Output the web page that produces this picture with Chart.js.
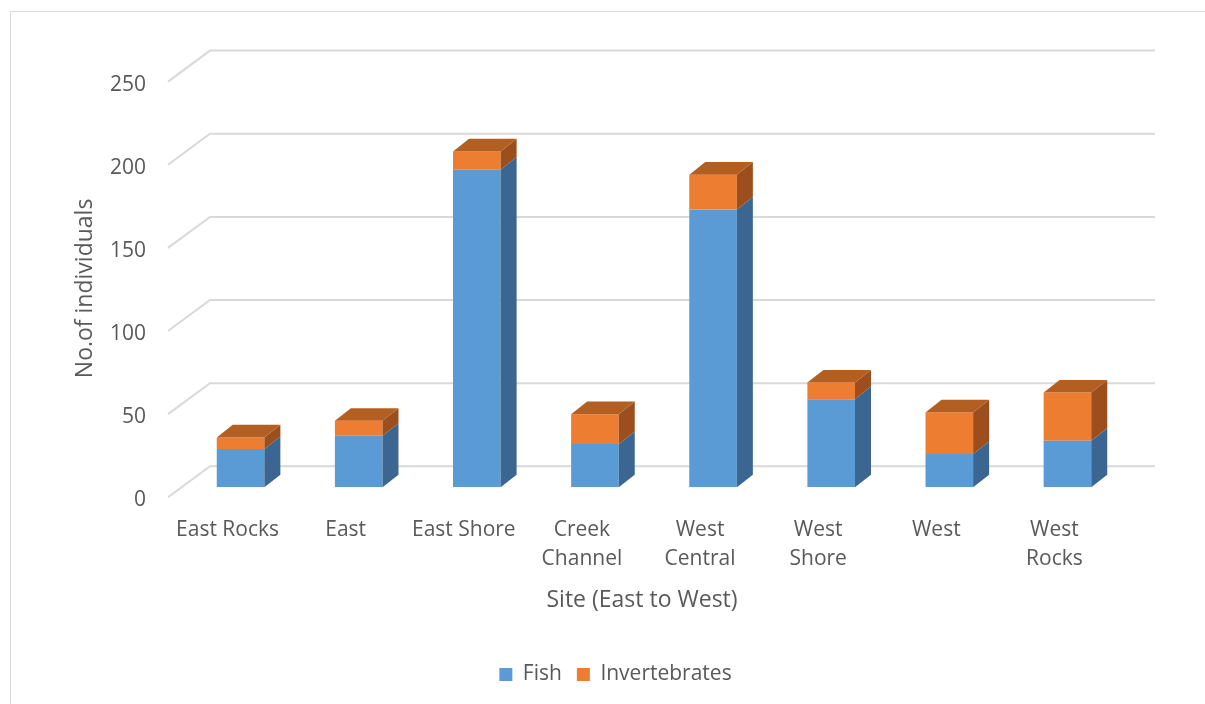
<!DOCTYPE html>
<html>
<head>
<meta charset="utf-8">
<script src="https://cdn.jsdelivr.net/npm/chart.js@4.4.1/dist/chart.umd.min.js"></script>
<style>
    html, body { margin: 0; padding: 0; background: #fff; }
    #wrap { width: 1205px; height: 704px; }
</style>
</head>
<body>
<div id="wrap"><canvas id="chart-area" width="1205" height="704"></canvas></div>
<script>
    'use strict';

    var sites = ['East Rocks', 'East', 'East Shore', ['Creek', 'Channel'], ['West', 'Central'],
        ['West', 'Shore'], 'West', ['West', 'Rocks']];
    var fish = [23, 31, 191, 26, 167, 53, 20, 28];
    var invertebrates = [7, 9, 11, 18, 21, 10, 25, 29];
    var yMax = 250;
    var yStep = 50;

    var textColor = '#595959';
    var fontFamily = "'Open Sans', sans-serif";

    // fake 3D: offsets in px
    var DEPTH = { x: 16, y: -12.6 };  // bar front -> bar back
    var WALL = { x: 28.5, y: -21 };   // bar front -> back wall
    var FLOOR = { x: -42, y: 31 };    // back wall -> front edge of floor

    function poly(ctx, pts) {
        ctx.beginPath();
        ctx.moveTo(pts[0][0], pts[0][1]);
        for (var i = 1; i < pts.length; i++) ctx.lineTo(pts[i][0], pts[i][1]);
        ctx.closePath();
        ctx.fill();
    }

    var bar3d = {
        id: 'bar3d',
        beforeDraw: function (chart) {
            var ctx = chart.ctx;
            ctx.save();
            ctx.fillStyle = '#fff';
            ctx.fillRect(0, 0, chart.width, chart.height);
            // outer frame (only top and left are inside the picture)
            ctx.strokeStyle = '#d9d9d9';
            ctx.lineWidth = 1;
            ctx.beginPath();
            ctx.moveTo(10.5, chart.height);
            ctx.lineTo(10.5, 11.5);
            ctx.lineTo(chart.width, 11.5);
            ctx.stroke();
            ctx.restore();
        },
        beforeDatasetsDraw: function (chart) {
            var ctx = chart.ctx, area = chart.chartArea, y = chart.scales.y;
            ctx.save();
            ctx.strokeStyle = '#d9d9d9';
            ctx.lineWidth = 2;
            y.ticks.forEach(function (t) {
                var py = y.getPixelForValue(t.value) + WALL.y;
                var x0 = area.left + WALL.x, x1 = area.right + WALL.x;
                ctx.beginPath();
                ctx.moveTo(x0 + FLOOR.x, py + FLOOR.y);
                ctx.lineTo(x0, py);
                ctx.lineTo(x1, py);
                ctx.stroke();
            });
            ctx.restore();
        },
        afterDatasetsDraw: function (chart) {
            var ctx = chart.ctx;
            var last = chart.data.datasets.length - 1;
            ctx.save();
            chart.data.datasets.forEach(function (ds, di) {
                chart.getDatasetMeta(di).data.forEach(function (bar) {
                    var p = bar.getProps(['x', 'y', 'base', 'width'], true);
                    var l = p.x - p.width / 2, r = p.x + p.width / 2;
                    var top = Math.min(p.y, p.base), bot = Math.max(p.y, p.base);
                    ctx.fillStyle = ds.sideColor;
                    poly(ctx, [[r, top], [r + DEPTH.x, top + DEPTH.y], [r + DEPTH.x, bot + DEPTH.y], [r, bot]]);
                    if (di === last) {
                        ctx.fillStyle = ds.topColor;
                        poly(ctx, [[l, top], [l + DEPTH.x, top + DEPTH.y], [r + DEPTH.x, top + DEPTH.y], [r, top]]);
                    }
                });
            });
            ctx.restore();
        }
    };

    var ctx = document.getElementById('chart-area').getContext('2d');
    window.siteChart = new Chart(ctx, {
        type: 'bar',
        data: {
            labels: sites,
            datasets: [
                {
                    label: 'Fish',
                    data: fish,
                    backgroundColor: '#5b9bd5',
                    sideColor: '#3b6691',
                    topColor: '#4a80b3',
                    barPercentage: 0.403,
                    categoryPercentage: 1
                },
                {
                    label: 'Invertebrates',
                    data: invertebrates,
                    backgroundColor: '#ed7d31',
                    sideColor: '#9c4f1d',
                    topColor: '#b45f22',
                    barPercentage: 0.403,
                    categoryPercentage: 1
                }
            ]
        },
        plugins: [bar3d],
        options: {
            responsive: false,
            animation: false,
            layout: { padding: { left: 70, right: 44, top: 71.6, bottom: 9 } },
            plugins: {
                legend: {
                    position: 'bottom',
                    labels: {
                        boxWidth: 13,
                        boxHeight: 13,
                        padding: 15,
                        color: textColor,
                        font: { family: fontFamily, size: 21 }
                    }
                },
                tooltip: { enabled: false }
            },
            scales: {
                x: {
                    stacked: true,
                    grid: { display: false, drawTicks: false },
                    border: { display: false },
                    ticks: {
                        color: textColor,
                        font: { family: fontFamily, size: 21, lineHeight: 1.38 },
                        padding: 28,
                        labelOffset: -13,
                        maxRotation: 0,
                        autoSkip: false
                    },
                    title: {
                        display: true,
                        text: 'Site (East to West)    ',
                        color: textColor,
                        font: { family: fontFamily, size: 23 },
                        padding: { top: 0, bottom: 35 }
                    },
                    afterFit: function (s) { s.height = 161.7; }
                },
                y: {
                    stacked: true,
                    min: 0,
                    max: yMax,
                    grid: { display: false, drawTicks: false },
                    border: { display: false },
                    ticks: {
                        stepSize: yStep,
                        color: textColor,
                        font: { family: fontFamily, size: 21 },
                        padding: 35.5,
                        labelOffset: 13
                    },
                    title: {
                        display: true,
                        text: 'No.of individuals   ',
                        color: textColor,
                        font: { family: fontFamily, size: 23 },
                        padding: { top: 2, bottom: 0 }
                    },
                    afterFit: function (s) { s.width = 111.5; }
                },
                yRight: {
                    position: 'right',
                    grid: { display: false, drawTicks: false },
                    border: { display: false },
                    ticks: { display: false },
                    afterFit: function (s) { s.width = 34.5; }
                }
            }
        }
    });
</script>
</body>
</html>
